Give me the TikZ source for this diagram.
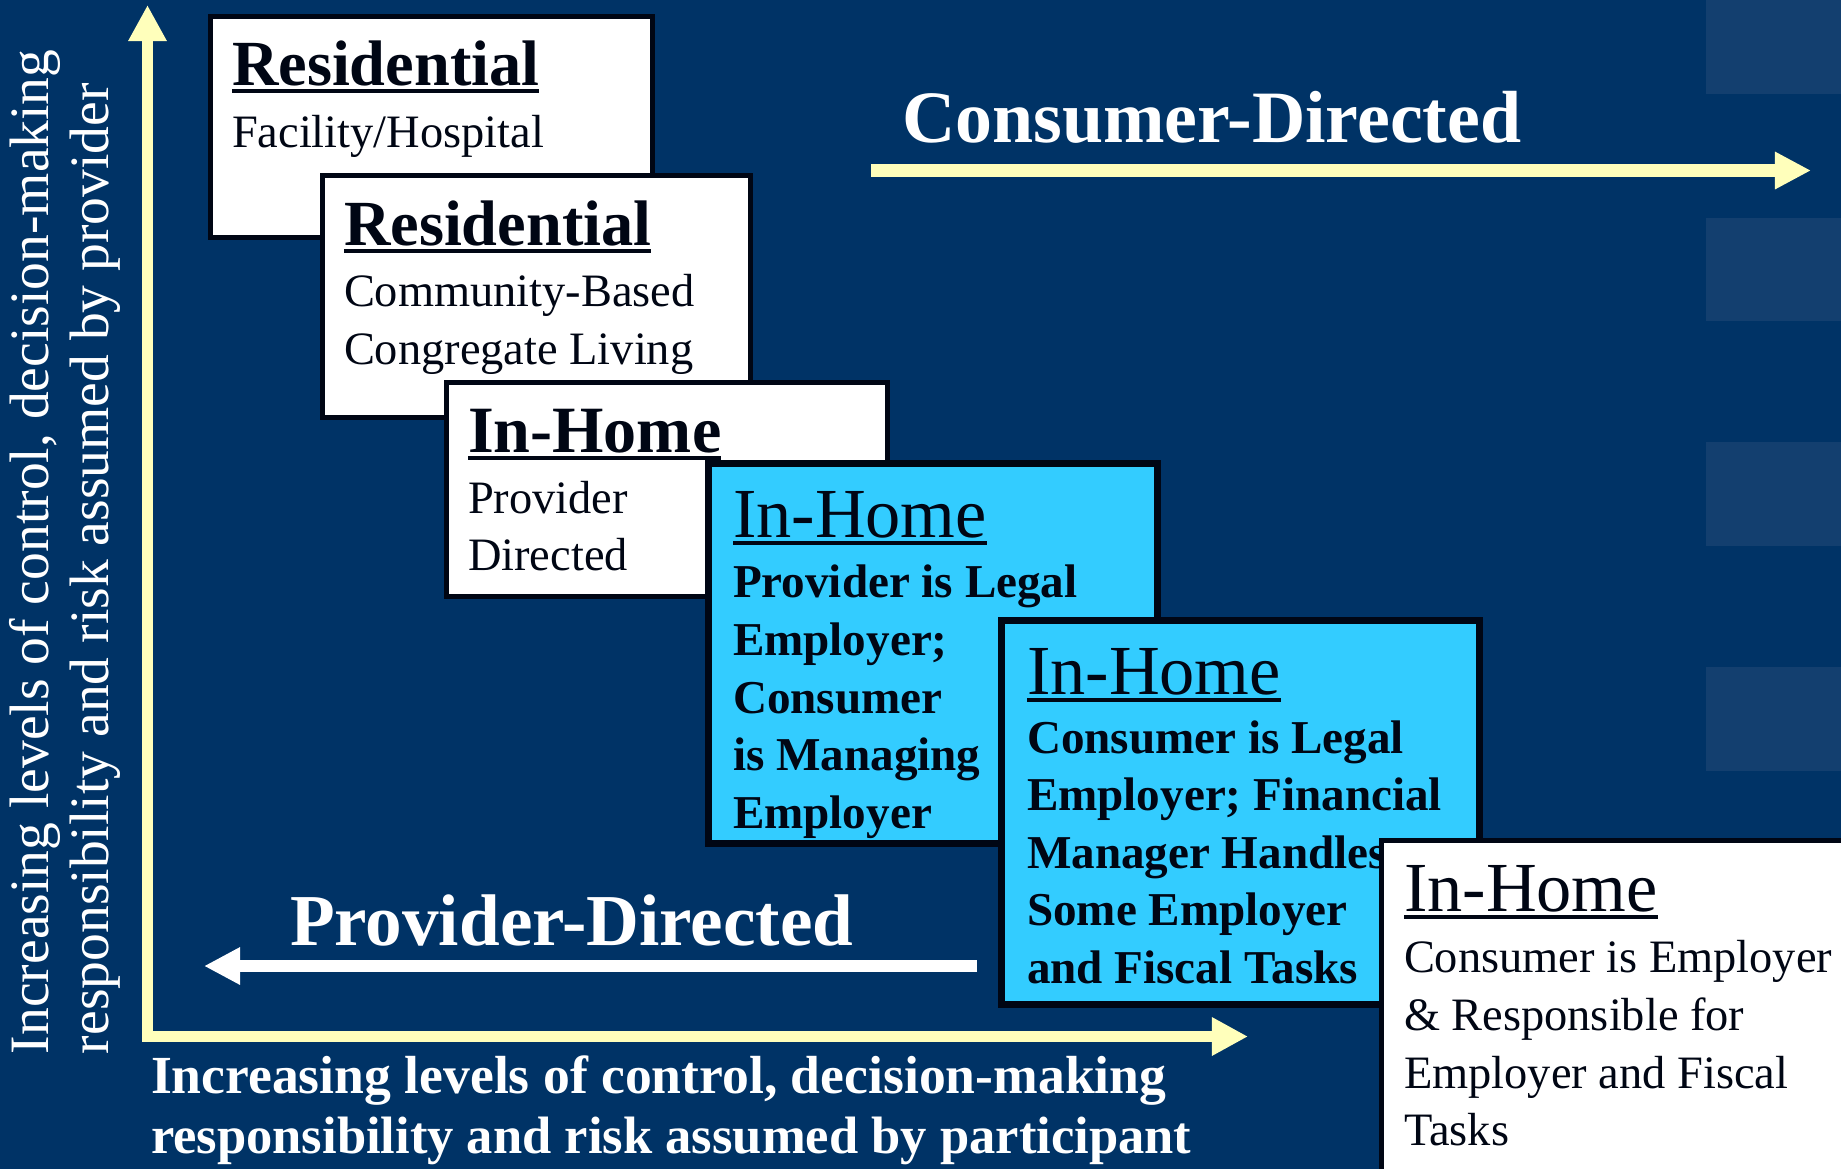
\documentclass[tikz,border=0pt]{standalone}
\usepackage{fontspec}
\setmainfont{Liberation Serif}
\usetikzlibrary{arrows.meta}
\definecolor{navy}{RGB}{0,51,102}
\definecolor{tile}{RGB}{19,63,111}
\definecolor{pale}{RGB}{255,255,187}
\definecolor{sky}{RGB}{51,204,255}
\definecolor{ink}{RGB}{0,6,20}
% underline drawn as a rule a little below the baseline
\newcommand\ulword[1]{\setbox0=\hbox{#1}\rlap{\rule[-2.3pt]{\wd0}{1.2pt}}\box0}
\begin{document}
\begin{tikzpicture}[x=0.01cm,y=-0.01cm,
  wbox/.style={draw=ink, fill=white, line width=0.048cm, inner sep=0, outer sep=0, anchor=north west},
  cbox/.style={draw=ink, fill=sky, line width=0.072cm, inner sep=0, outer sep=0, anchor=north west},
  line/.style={anchor=base west, inner sep=0, outer sep=0, text=ink},
  boldtitle/.style={line, font=\fontsize{18.5}{22}\selectfont\bfseries},
  plaintitle/.style={line, font=\fontsize{20}{24}\selectfont},
  body/.style={line, font=\fontsize{13.2}{16}\selectfont},
  boldbody/.style={line, font=\fontsize{13.4}{16}\selectfont\bfseries},
  banner/.style={anchor=base west, inner sep=0, outer sep=0, text=white, font=\fontsize{21}{25}\selectfont\bfseries},
  axislabel/.style={anchor=base west, inner sep=0, outer sep=0, text=white, font=\fontsize{15.1}{18}\selectfont\bfseries},
  sidelabel/.style={anchor=base west, inner sep=0, outer sep=0, text=white, rotate=90, font=\fontsize{15.8}{19}\selectfont},
  axis/.style={draw=pale, line width=0.11cm, line join=miter,
    {Triangle[length=0.36cm,width=0.36cm]}-{Triangle[length=0.36cm,width=0.36cm]}},
  yarrow/.style={draw=pale, line width=0.13cm, -{Triangle[length=0.36cm,width=0.35cm]}},
  warrow/.style={draw=white, line width=0.125cm, -{Triangle[length=0.36cm,width=0.35cm]}}
]
\path[use as bounding box] (0,0) rectangle (1841,1169);
\clip (0,0) rectangle (1841,1169);

% background and the column of tiles at the right
\fill[navy] (0,0) rectangle (1841,1169);
\fill[tile] (1706,0) rectangle (1841,94);
\fill[tile] (1706,218) rectangle (1841,321);
\fill[tile] (1706,442) rectangle (1841,546);
\fill[tile] (1706,667) rectangle (1841,771);

% axes
\coordinate (vtip) at (147.5,5);
\coordinate (corner) at (147.5,1036.5);
\coordinate (htip) at (1248,1036.5);
\draw[axis] (vtip) -- (corner) -- (htip);

% direction arrows
\coordinate (cdfrom) at (871,170.5);
\coordinate (cdto) at (1811,170.5);
\draw[yarrow] (cdfrom) -- (cdto);
\coordinate (pdfrom) at (977,966);
\coordinate (pdto) at (204,966);
\draw[warrow] (pdfrom) -- (pdto);

\node[banner] (consumer) at (902,142) {Consumer-Directed};
\node[banner, font=\fontsize{20.8}{25}\selectfont\bfseries] (provider) at (290,945) {Provider-Directed};

% axis captions
\node[axislabel, font=\fontsize{15.25}{18}\selectfont\bfseries] (xcap1) at (151,1093) {Increasing levels of control, decision-making};
\node[axislabel, font=\fontsize{14.95}{18}\selectfont\bfseries] (xcap2) at (151,1153) {responsibility and risk assumed by participant};
\node[sidelabel] (ycap1) at (48,1054) {Increasing levels of control, decision-making};
\node[sidelabel] (ycap2) at (108,1054) {responsibility and risk assumed by provider};

% step 1
\node[wbox, minimum width=4.422cm, minimum height=2.212cm] (box1) at (210.4,16.4) {};
\node[boldtitle, font=\fontsize{18.3}{22}\selectfont\bfseries] (box1t) at (232,85) {\ulword{Residential}};
\node[body] (box1a) at (232,147) {Facility/Hospital};

% step 2
\node[wbox, minimum width=4.282cm, minimum height=2.422cm] (box2) at (322.4,175.4) {};
\node[boldtitle, font=\fontsize{18.3}{22}\selectfont\bfseries] (box2t) at (344,245) {\ulword{Residential}};
\node[body] (box2a) at (344,306) {Community-Based};
\node[body] (box2b) at (344,364) {Congregate Living};

% step 3
\node[wbox, minimum width=4.412cm, minimum height=2.142cm] (box3) at (446.4,382.4) {};
\node[boldtitle, font=\fontsize{18.8}{22}\selectfont\bfseries] (box3t) at (468,452) {\ulword{In-Home}};
\node[body] (box3a) at (468,513) {Provider};
\node[body] (box3b) at (468,570) {Directed};

% step 4
\node[cbox, minimum width=4.488cm, minimum height=3.798cm] (box4) at (708.6,463.6) {};
\node[plaintitle] (box4t) at (733,537) {\ulword{In-Home}};
\node[boldbody] (box4a) at (733,597) {Provider is Legal};
\node[boldbody] (box4b) at (733,655) {Employer;};
\node[boldbody] (box4c) at (733,713) {Consumer};
\node[boldbody] (box4d) at (733,770) {is Managing};
\node[boldbody] (box4e) at (733,828) {Employer};

% step 5
\node[cbox, minimum width=4.778cm, minimum height=3.838cm] (box5) at (1001.6,620.6) {};
\node[plaintitle] (box5t) at (1027,694) {\ulword{In-Home}};
\node[boldbody] (box5a) at (1027,753) {Consumer is Legal};
\node[boldbody] (box5b) at (1027,810) {Employer; Financial};
\node[boldbody] (box5c) at (1027,868) {Manager Handles};
\node[boldbody] (box5d) at (1027,925) {Some Employer};
\node[boldbody] (box5e) at (1027,983) {and Fiscal Tasks};

% step 6
\node[wbox, line width=0.05cm, minimum width=5cm, minimum height=4cm] (box6) at (1381.5,840.5) {};
\node[plaintitle] (box6t) at (1404,911) {\ulword{In-Home}};
\node[body] (box6a) at (1404,972) {Consumer is Employer};
\node[body] (box6b) at (1404,1030) {\& Responsible for};
\node[body] (box6c) at (1404,1088) {Employer and Fiscal};
\node[body] (box6d) at (1404,1145) {Tasks};
\end{tikzpicture}
\end{document}
